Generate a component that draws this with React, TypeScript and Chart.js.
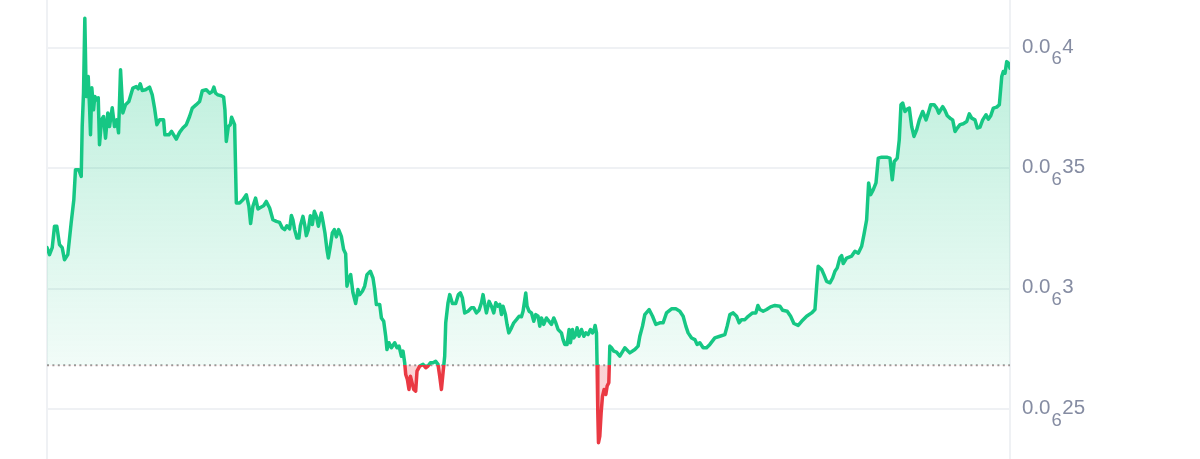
import React, { useEffect, useRef } from "react";
import { Chart, registerables } from "chart.js";

Chart.register(...registerables);

// time of each observation, in hours from the start of the 7-day window
const TIME_H = [
  0, 0.44, 0.91, 1.31, 1.71, 2.18, 2.65, 3.05, 3.63, 4.22,
  4.68, 4.97, 5.55, 5.97, 6.14, 6.37, 6.6, 6.84, 7.19, 7.42,
  7.59, 7.82, 8.12, 8.34, 8.69, 8.94, 9.16, 9.51, 9.86, 10.21,
  10.61, 10.91, 11.38, 11.78, 12.18, 12.48, 12.83, 13.23, 13.7, 14.28,
  14.98, 15.57, 15.92, 16.27, 16.62, 17.19, 17.89, 18.36, 18.76, 19.17,
  19.64, 20.34, 20.56, 21.26, 21.73, 22.55, 23.13, 23.7, 24.3, 24.87,
  25.35, 26.04, 26.62, 27.09, 27.79, 28.36, 28.84, 29.12, 29.41, 29.81,
  30.41, 30.81, 31.04, 31.28, 31.63, 31.98, 32.2, 32.73, 33.03, 33.6,
  34.18, 34.77, 35.22, 35.52, 35.92, 36.39, 36.8, 37.39, 37.79, 38.26,
  38.84, 39.41, 40.01, 40.58, 41.05, 41.46, 41.86, 42.33, 42.63, 42.9,
  43.2, 43.6, 43.95, 44.2, 44.65, 44.95, 45.24, 45.59, 45.94, 46.29,
  46.64, 46.99, 47.34, 47.57, 47.86, 48.14, 48.49, 48.84, 49.08, 49.43,
  49.78, 50.13, 50.48, 50.88, 51.35, 51.75, 52.1, 52.33, 52.68, 52.98,
  53.38, 53.85, 54.25, 54.55, 55.02, 55.42, 55.82, 56.41, 56.87, 57.17,
  57.46, 58.04, 58.34, 58.74, 59.09, 59.31, 59.66, 60.08, 60.66, 61.06,
  61.41, 61.83, 62.11, 62.4, 62.58, 62.87, 63.15, 63.4, 63.68, 63.97,
  64.32, 64.55, 65.02, 65.6, 66.07, 66.47, 66.89, 67.34, 67.81, 68.21,
  68.51, 68.81, 69.09, 69.38, 69.56, 69.96, 70.26, 70.73, 71.3, 71.77,
  72.12, 72.47, 72.87, 73.45, 74.04, 74.45, 74.92, 75.37, 75.79, 76.07,
  76.37, 76.66, 77.12, 77.54, 77.94, 78.29, 78.69, 78.99, 79.28, 79.56,
  79.98, 80.26, 80.56, 81.03, 81.43, 81.9, 82.36, 82.77, 83.05, 83.35,
  83.52, 83.75, 84.1, 84.52, 84.92, 85.27, 85.67, 85.97, 86.26, 86.66,
  87.13, 87.59, 88.01, 88.41, 88.76, 89.16, 89.75, 90.03, 90.33, 90.73,
  91.08, 91.32, 91.67, 91.9, 92.25, 92.48, 92.82, 93.25, 93.65, 94.0,
  94.4, 94.81, 95.16, 95.39, 95.62, 95.86, 95.97, 96.09, 96.21, 96.44,
  96.67, 96.91, 97.19, 97.49, 97.72, 98.01, 98.19, 98.48, 98.89, 99.35,
  99.93, 100.8, 101.67, 102.55, 103.12, 103.42, 103.89, 104.29, 105.04, 105.64,
  106.21, 106.91, 107.49, 108.08, 108.95, 109.7, 110.4, 110.98, 111.45, 111.85,
  112.45, 113.02, 113.42, 113.89, 114.47, 115.06, 115.64, 116.51, 117.38, 118.26,
  118.66, 119.13, 119.71, 120.3, 120.75, 121.17, 121.75, 122.33, 123.09, 123.67,
  124.02, 124.37, 124.94, 125.54, 126.23, 126.98, 127.86, 128.33, 129.13, 129.73,
  130.3, 131.05, 131.65, 132.52, 133.39, 133.97, 134.27, 134.54, 135.14, 135.54,
  136.01, 136.59, 137.06, 137.46, 137.86, 138.34, 138.63, 138.91, 139.5, 140.38,
  140.95, 141.53, 142.12, 142.52, 142.99, 143.34, 143.69, 144.15, 144.62, 145.02,
  145.61, 146.49, 147.06, 147.46, 147.81, 148.33, 148.68, 148.98, 149.28, 149.68,
  150.08, 150.43, 150.85, 151.25, 151.72, 152.18, 152.77, 153.35, 153.75, 154.17,
  154.75, 155.22, 155.57, 155.92, 156.26, 156.66, 157.06, 157.54, 158.0, 158.41,
  158.81, 159.28, 159.85, 160.45, 160.9, 161.32, 161.89, 162.3, 162.77, 163.24,
  163.82, 164.22, 164.64, 165.09, 165.68, 166.14, 166.56, 166.83, 167.13, 167.43,
  167.71, 168.0,
];

// price in units of 1e-7 (0.0₆4 = 0.0000004 = 4 × 1e-7)
const PRICE_E7 = [
  3.170, 3.141, 3.170, 3.259, 3.259, 3.183, 3.170, 3.120, 3.141, 3.274,
  3.369, 3.494, 3.494, 3.466, 3.673, 3.813, 4.123, 3.798, 3.881, 3.756,
  3.639, 3.834, 3.743, 3.798, 3.784, 3.793, 3.598, 3.701, 3.715, 3.625,
  3.730, 3.673, 3.751, 3.673, 3.701, 3.647, 3.909, 3.730, 3.764, 3.777,
  3.833, 3.839, 3.830, 3.851, 3.823, 3.826, 3.837, 3.805, 3.750, 3.681,
  3.701, 3.701, 3.639, 3.639, 3.653, 3.621, 3.649, 3.667, 3.681, 3.715,
  3.750, 3.764, 3.777, 3.822, 3.826, 3.812, 3.819, 3.837, 3.812, 3.805,
  3.801, 3.796, 3.743, 3.611, 3.673, 3.681, 3.712, 3.681, 3.356, 3.356,
  3.369, 3.390, 3.342, 3.270, 3.342, 3.376, 3.331, 3.339, 3.344, 3.362,
  3.335, 3.286, 3.279, 3.275, 3.252, 3.245, 3.261, 3.248, 3.304, 3.286,
  3.245, 3.210, 3.210, 3.261, 3.300, 3.266, 3.220, 3.245, 3.303, 3.266,
  3.321, 3.300, 3.259, 3.286, 3.314, 3.279, 3.231, 3.162, 3.127, 3.176,
  3.231, 3.245, 3.215, 3.245, 3.217, 3.162, 3.145, 3.010, 3.044, 3.058,
  2.982, 2.938, 2.996, 2.975, 2.989, 3.010, 3.058, 3.072, 3.044, 2.996,
  2.934, 2.934, 2.878, 2.864, 2.802, 2.747, 2.775, 2.754, 2.775, 2.754,
  2.761, 2.719, 2.740, 2.692, 2.643, 2.622, 2.581, 2.636, 2.609, 2.581,
  2.574, 2.657, 2.678, 2.685, 2.671, 2.678, 2.692, 2.692, 2.698, 2.685,
  2.636, 2.581, 2.650, 2.719, 2.858, 2.941, 2.975, 2.938, 2.938, 2.975,
  2.982, 2.961, 2.899, 2.906, 2.920, 2.920, 2.899, 2.910, 2.941, 2.975,
  2.934, 2.899, 2.947, 2.927, 2.899, 2.941, 2.927, 2.934, 2.892, 2.927,
  2.892, 2.851, 2.816, 2.837, 2.858, 2.871, 2.885, 2.883, 2.906, 2.954,
  2.982, 2.927, 2.906, 2.899, 2.864, 2.892, 2.885, 2.844, 2.878, 2.851,
  2.878, 2.864, 2.851, 2.878, 2.858, 2.830, 2.816, 2.788, 2.768, 2.768,
  2.830, 2.775, 2.830, 2.795, 2.809, 2.837, 2.802, 2.830, 2.802, 2.816,
  2.809, 2.830, 2.816, 2.823, 2.847, 2.816, 2.678, 2.484, 2.360, 2.387,
  2.484, 2.553, 2.581, 2.560, 2.595, 2.609, 2.761, 2.754, 2.740, 2.736,
  2.719, 2.754, 2.733, 2.747, 2.761, 2.802, 2.844, 2.892, 2.913, 2.885,
  2.851, 2.858, 2.858, 2.899, 2.916, 2.916, 2.906, 2.885, 2.844, 2.816,
  2.795, 2.788, 2.768, 2.775, 2.754, 2.754, 2.768, 2.795, 2.802, 2.809,
  2.844, 2.892, 2.899, 2.885, 2.858, 2.871, 2.871, 2.885, 2.899, 2.899,
  2.930, 2.913, 2.906, 2.913, 2.924, 2.930, 2.927, 2.910, 2.906, 2.885,
  2.855, 2.847, 2.864, 2.885, 2.899, 2.913, 3.010, 3.093, 3.079, 3.058,
  3.030, 3.024, 3.044, 3.072, 3.086, 3.129, 3.137, 3.104, 3.127, 3.135,
  3.155, 3.147, 3.176, 3.224, 3.286, 3.439, 3.390, 3.411, 3.439, 3.542,
  3.546, 3.546, 3.542, 3.452, 3.528, 3.542, 3.618, 3.764, 3.771, 3.736,
  3.746, 3.750, 3.673, 3.632, 3.660, 3.701, 3.736, 3.701, 3.729, 3.764,
  3.764, 3.750, 3.729, 3.743, 3.756, 3.740, 3.718, 3.708, 3.701, 3.653,
  3.667, 3.681, 3.685, 3.694, 3.726, 3.708, 3.701, 3.667, 3.671, 3.701,
  3.722, 3.704, 3.718, 3.750, 3.754, 3.764, 3.881, 3.902, 3.895, 3.943,
  3.937, 3.916,
];

// reference (opening) price shown as the dotted line
const BASE_E7 = 2.682;

// y-axis
const Y_MIN_E7 = 2.292;
const Y_MAX_E7 = 4.199;
const TICK_VALUES_E7 = [2.5, 3, 3.5, 4];
const TICK_LEAD = "0.0";
const TICK_ZEROS = "6";
const TICK_SIG = ["25", "3", "35", "4"];

const GREEN = "#16c784";
const RED = "#ea3943";
const GRID = "#eff1f4";
const LABEL = "#858ca2";
const FONT = '"Liberation Sans", Arial, Helvetica, sans-serif';

function baseFraction(chart: any) {
  const { chartArea, scales } = chart;
  const py = scales.y.getPixelForValue(BASE_E7);
  const f = (py - chartArea.top) / (chartArea.bottom - chartArea.top);
  return Math.min(1, Math.max(0, f));
}

const tickLabelPlugin = {
  id: "subscriptTicks",
  afterDraw(chart: any) {
    const ctx = chart.ctx;
    const y = chart.scales.y;
    const x0 = chart.chartArea.right + 12;
    ctx.save();
    ctx.fillStyle = LABEL;
    ctx.textAlign = "left";
    ctx.textBaseline = "middle";
    TICK_VALUES_E7.forEach((v, i) => {
      const py = y.getPixelForValue(v);
      ctx.font = `20.5px ${FONT}`;
      ctx.fillText(TICK_LEAD, x0, py - 1);
      let x = x0 + ctx.measureText(TICK_LEAD).width + 1;
      ctx.font = `18.5px ${FONT}`;
      ctx.fillText(TICK_ZEROS, x, py + 11.5);
      x += ctx.measureText(TICK_ZEROS).width + 0.5;
      ctx.font = `20.5px ${FONT}`;
      ctx.fillText(TICK_SIG[i], x, py - 1);
    });
    ctx.restore();
  },
};

export default function App() {
  const canvasRef = useRef<HTMLCanvasElement | null>(null);

  useEffect(() => {
    document.body.style.margin = "0";
    const canvas = canvasRef.current;
    if (!canvas) return;
    const points = TIME_H.map((t, i) => ({ x: t, y: PRICE_E7[i] }));
    const basePoints = [
      { x: TIME_H[0], y: BASE_E7 },
      { x: TIME_H[TIME_H.length - 1], y: BASE_E7 },
    ];

    const chart = new Chart(canvas, {
      type: "line",
      data: {
        datasets: [
          {
            data: points,
            borderWidth: 3.5,
            pointRadius: 0,
            tension: 0,
            borderJoinStyle: "round",
            borderCapStyle: "round",
            borderColor: (c: any) => {
              const chart = c.chart;
              if (!chart.chartArea) return GREEN;
              const { top, bottom } = chart.chartArea;
              const f = baseFraction(chart);
              const g = chart.ctx.createLinearGradient(0, top, 0, bottom);
              g.addColorStop(0, GREEN);
              g.addColorStop(f, GREEN);
              g.addColorStop(Math.min(1, f + 0.0001), RED);
              g.addColorStop(1, RED);
              return g;
            },
            backgroundColor: (c: any) => {
              const chart = c.chart;
              if (!chart.chartArea) return "rgba(22,199,132,0.15)";
              const { top, bottom } = chart.chartArea;
              const f = baseFraction(chart);
              const g = chart.ctx.createLinearGradient(0, top, 0, bottom);
              g.addColorStop(0, "rgba(22,199,132,0.32)");
              g.addColorStop(f, "rgba(22,199,132,0.06)");
              g.addColorStop(Math.min(1, f + 0.0001), "rgba(234,57,67,0.22)");
              g.addColorStop(1, "rgba(234,57,67,0.22)");
              return g;
            },
            fill: { value: BASE_E7 },
            order: 0,
          },
          {
            data: basePoints,
            borderColor: "#9b9b9b",
            borderWidth: 2,
            borderDash: [2, 3.4],
            pointRadius: 0,
            fill: false,
            order: 1,
          },
        ],
      },
      options: {
        animation: false,
        responsive: false,
        devicePixelRatio: 1,
        layout: { padding: { left: 47, right: 0, top: 0, bottom: 0 } },
        plugins: {
          legend: { display: false },
          tooltip: { enabled: false },
        },
        events: [],
        scales: {
          x: {
            type: "linear",
            min: TIME_H[0],
            max: TIME_H[TIME_H.length - 1],
            display: true,
            afterBuildTicks: (axis: any) => {
              axis.ticks = [{ value: TIME_H[0] }];
            },
            ticks: { display: false },
            grid: { display: true, drawTicks: false, color: GRID, lineWidth: 2 },
            border: { display: false },
          },
          y: {
            type: "linear",
            position: "right",
            min: Y_MIN_E7,
            max: Y_MAX_E7,
            afterBuildTicks: (axis: any) => {
              axis.ticks = TICK_VALUES_E7.map((v) => ({ value: v }));
            },
            afterFit: (axis: any) => {
              axis.width = 190;
            },
            ticks: { display: false },
            grid: { display: true, drawTicks: false, color: GRID, lineWidth: 2 },
            border: { display: true, color: GRID, width: 2 },
          },
        },
      },
      plugins: [tickLabelPlugin],
    } as any);

    return () => chart.destroy();
  }, []);

  return (
    <div style={{ position: "absolute", left: 0, top: 0, width: 1200, height: 459, background: "#fff" }}>
      <canvas ref={canvasRef} width={1200} height={459} />
    </div>
  );
}
